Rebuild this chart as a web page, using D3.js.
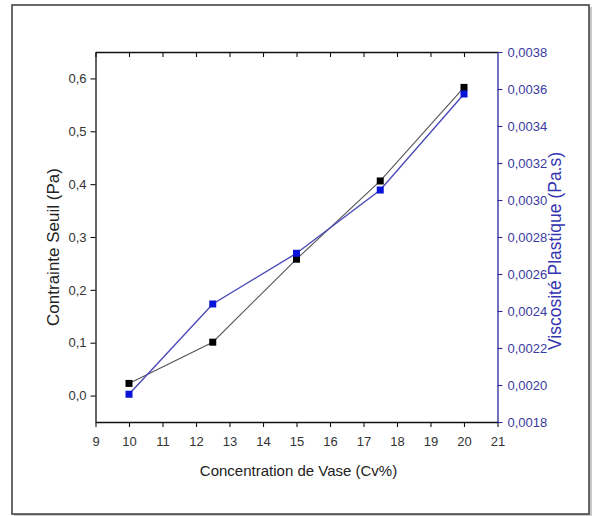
<!DOCTYPE html>
<html>
<head>
<meta charset="utf-8">
<script src="https://cdn.jsdelivr.net/npm/d3@7"></script>
<style>
  html, body { margin: 0; padding: 0; background: #fff; }
  svg { display: block; font-family: "Liberation Sans", Arial, sans-serif; }
</style>
</head>
<body>
<svg id="chart" width="598" height="516"></svg>
<script>
// Concentration of mud (Cv%)
const concentration = [10, 12.5, 15, 17.5, 20];
// Yield stress (Pa), left axis
const contrainteSeuil = [0.023, 0.101, 0.258, 0.406, 0.583];
// Plastic viscosity (Pa.s), right axis
const viscosite = [0.00195, 0.002438, 0.002712, 0.003054, 0.003573];

const xTicks = d3.range(9, 22, 1);
const leftTicks = [0, 0.1, 0.2, 0.3, 0.4, 0.5, 0.6];
const rightTicks = [0.0018, 0.0020, 0.0022, 0.0024, 0.0026, 0.0028, 0.0030, 0.0032, 0.0034, 0.0036, 0.0038];

const svg = d3.select("#chart");
const plot = { left: 95.5, right: 497.5, top: 52, bottom: 422 };
const blueAxis = "#2a2a9c";

// outer frame with a soft shadow
svg.append("rect").attr("x", 14).attr("y", 7).attr("width", 578).attr("height", 509)
  .attr("fill", "#c8c8c8");
svg.append("rect").attr("x", 12).attr("y", 5).attr("width", 577).attr("height", 509)
  .attr("fill", "#fff").attr("stroke", "#444").attr("stroke-width", 1.6);

const x = d3.scaleLinear().domain([9, 21]).range([plot.left, plot.right]);
const yL = d3.scaleLinear().domain([-0.05, 0.65]).range([plot.bottom, plot.top]);
const yR = d3.scaleLinear().domain([0.0018, 0.0038]).range([plot.bottom, plot.top]);

const comma = d => d3.format(".1f")(d).replace(".", ",");
const comma4 = d => d3.format(".4f")(d).replace(".", ",");

function styleAxis(g, color, textColor) {
  g.select(".domain").attr("stroke", color).attr("stroke-width", 1.3);
  g.selectAll(".tick line").attr("stroke", color).attr("stroke-width", 1.1);
  g.selectAll(".tick text").attr("fill", textColor).attr("font-size", 13);
}

// minor ticks
const xMinor = d3.range(9.5, 21, 1);
const lMinor = d3.range(-0.05, 0.66, 0.1);
const rMinor = d3.range(0.0019, 0.0038, 0.0002);

// bottom axis
const gB = svg.append("g").attr("transform", `translate(0,${plot.bottom})`);
gB.call(d3.axisBottom(x).tickValues(xMinor).tickSize(3).tickFormat(""));
gB.call(d3.axisBottom(x).tickValues(xTicks).tickSize(5).tickSizeOuter(0).tickPadding(10).tickFormat(d3.format("d")));
styleAxis(gB, "#111", "#333");

// top axis (ticks inward)
const gT = svg.append("g").attr("transform", `translate(0,${plot.top})`);
gT.call(d3.axisBottom(x).tickValues(xMinor).tickSize(3).tickSizeOuter(0).tickFormat(""));
gT.call(d3.axisBottom(x).tickValues(xTicks.slice(0, -1)).tickSize(5).tickSizeOuter(0).tickFormat(""));
styleAxis(gT, "#111", "#333");

// left axis
const gL = svg.append("g").attr("transform", `translate(${plot.left},0)`);
gL.call(d3.axisLeft(yL).tickValues(lMinor).tickSize(3).tickSizeOuter(0).tickFormat(""));
gL.call(d3.axisLeft(yL).tickValues(leftTicks).tickSize(5).tickSizeOuter(0).tickPadding(4).tickFormat(comma));
styleAxis(gL, "#111", "#333");

// right axis (blue)
const gR = svg.append("g").attr("transform", `translate(${plot.right},0)`);
gR.call(d3.axisRight(yR).tickValues(rMinor).tickSize(3).tickSizeOuter(0).tickFormat(""));
gR.call(d3.axisRight(yR).tickValues(rightTicks).tickSize(5).tickSizeOuter(0).tickPadding(5).tickFormat(comma4));
styleAxis(gR, blueAxis, "#3a3aa0");

// axis titles
svg.append("text").attr("x", plot.left + (plot.right - plot.left) / 2 + 2).attr("y", 476)
  .attr("text-anchor", "middle").attr("font-size", 15).attr("fill", "#222")
  .text("Concentration de Vase (Cv%)");
svg.append("text").attr("transform", `translate(59,${(plot.top + plot.bottom) / 2 + 10}) rotate(-90)`)
  .attr("text-anchor", "middle").attr("font-size", 17).attr("fill", "#222")
  .text("Contrainte Seuil (Pa)");
svg.append("text").attr("transform", `translate(561,${(plot.top + plot.bottom) / 2 + 14}) rotate(-90)`)
  .attr("text-anchor", "middle").attr("font-size", 17.5).attr("fill", "#3535b0")
  .text("Viscosité Plastique (Pa.s)");

// series
const blackPts = concentration.map((c, i) => [x(c), yL(contrainteSeuil[i])]);
const bluePts = concentration.map((c, i) => [x(c), yR(viscosite[i])]);

svg.append("path").attr("d", d3.line()(blackPts)).attr("fill", "none")
  .attr("stroke", "#555").attr("stroke-width", 1.1);
svg.append("path").attr("d", d3.line()(bluePts)).attr("fill", "none")
  .attr("stroke", "#4a4ab8").attr("stroke-width", 1.4);

const m = 7;
svg.selectAll(".mb").data(blackPts).join("rect").attr("class", "mb")
  .attr("x", d => d[0] - m / 2).attr("y", d => d[1] - m / 2)
  .attr("width", m).attr("height", m).attr("fill", "#000");
svg.selectAll(".mu").data(bluePts).join("rect").attr("class", "mu")
  .attr("x", d => d[0] - m / 2).attr("y", d => d[1] - m / 2)
  .attr("width", m).attr("height", m).attr("fill", "#0a14d8");
</script>
</body>
</html>
